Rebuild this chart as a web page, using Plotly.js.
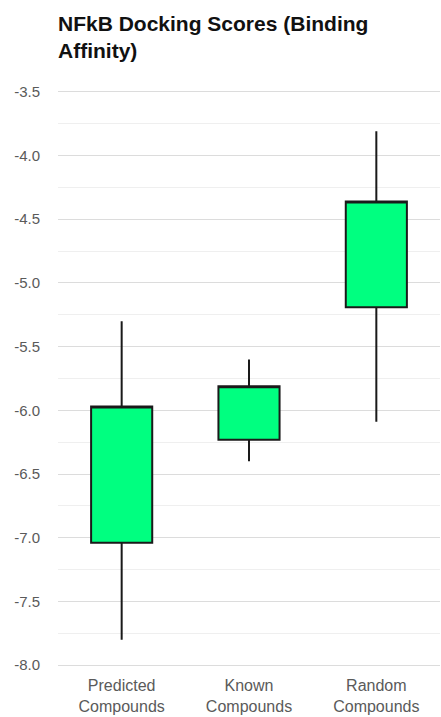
<!DOCTYPE html>
<html><head><meta charset="utf-8">
<script src="https://cdn.plot.ly/plotly-3.0.1.min.js"></script>
<style>html,body{margin:0;padding:0;background:#fff}#chart{width:441px;height:717px}</style>
</head><body><div id="chart"></div>
<script>
const categories = ["Predicted<br>Compounds", "Known<br>Compounds", "Random<br>Compounds"];
const lowValues  = [-7.80, -6.40, -6.09];
const q1Values   = [-7.04, -6.23, -5.19];
const q3Values   = [-5.97, -5.81, -4.36];
const highValues = [-5.30, -5.60, -3.81];
const yTickValues = [-8.0, -7.5, -7.0, -6.5, -6.0, -5.5, -5.0, -4.5, -4.0, -3.5];
const yTickLabels = ["-8.0", "-7.5", "-7.0", "-6.5", "-6.0", "-5.5", "-5.0", "-4.5", "-4.0", "-3.5"];

const trace = {
  type: 'box',
  x: categories,
  q1: q1Values,
  q3: q3Values,
  median: q3Values,
  lowerfence: lowValues,
  upperfence: highValues,
  fillcolor: '#00FF80',
  line: {color: '#1a1a1a', width: 2},
  whiskerwidth: 0,
  width: 0.48,
  boxpoints: false,
  hoverinfo: 'y',
  showlegend: false
};

const font = 'Liberation Sans, Arial, sans-serif';
const layout = {
  width: 441, height: 717,
  paper_bgcolor: '#fff', plot_bgcolor: '#fff',
  margin: {l: 58, r: 1, t: 88, b: 48},
  title: {
    text: '<b>NFkB Docking Scores (Binding<br>Affinity)</b>',
    font: {family: font, size: 21, color: '#111'},
    xref: 'paper', x: 0, xanchor: 'left',
    yref: 'container', y: 0.957, yanchor: 'top'
  },
  xaxis: {
    type: 'category',
    range: [-0.5, 2.5],
    showgrid: false, zeroline: false, showline: false,
    ticks: '', ticklabelstandoff: 5,
    tickfont: {family: font, size: 16, color: '#5a5a5a'}
  },
  yaxis: {
    range: [-8.03, -3.47],
    tickmode: 'array',
    tickvals: yTickValues,
    ticktext: yTickLabels,
    showgrid: true, gridcolor: '#dcdcdc', gridwidth: 1,
    zeroline: false, showline: false,
    ticks: '', ticklabelstandoff: 17,
    tickfont: {family: font, size: 15, color: '#5a5a5a'},
    minor: {dtick: 0.25, tick0: -8, showgrid: true, gridcolor: '#efefef', gridwidth: 1}
  }
};

Plotly.newPlot('chart', [trace], layout, {displayModeBar: false, staticPlot: true});
</script>
</body></html>
